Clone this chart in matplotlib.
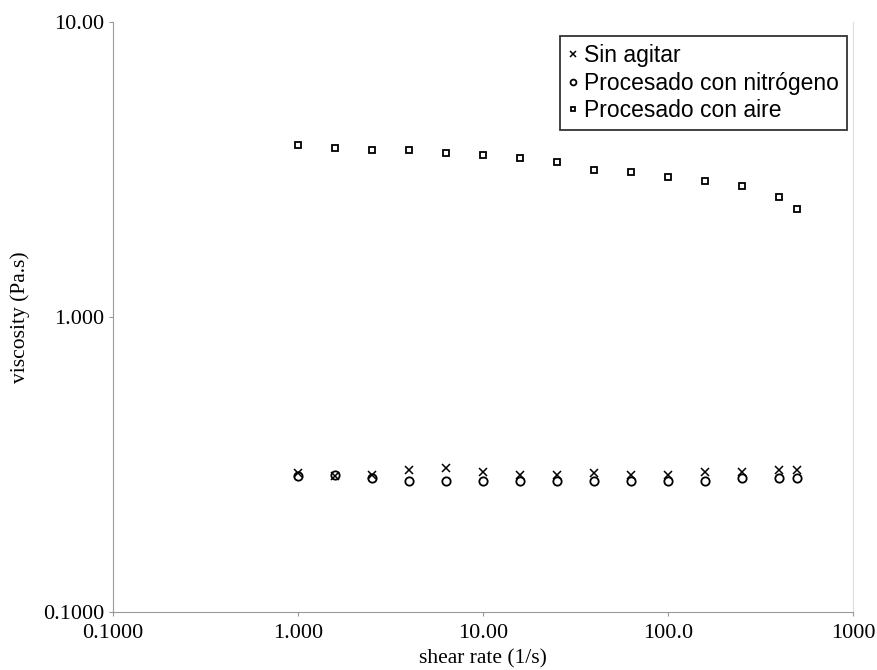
import matplotlib
matplotlib.use("Agg")
import matplotlib.pyplot as plt
from matplotlib.ticker import FixedLocator, FixedFormatter, NullLocator

# shear rate (1/s)
shear = [1.0, 1.585, 2.512, 3.981, 6.31, 10.0, 15.85, 25.12, 39.81, 63.1,
         100.0, 158.5, 251.2, 398.1, 500.0]
# viscosity (Pa.s) for each sample
sin_agitar = [0.295, 0.288, 0.292, 0.302, 0.307, 0.299, 0.292, 0.292, 0.295,
              0.292, 0.292, 0.299, 0.299, 0.302, 0.302]
nitrogeno = [0.290, 0.292, 0.284, 0.279, 0.277, 0.279, 0.279, 0.279, 0.279,
             0.279, 0.279, 0.279, 0.284, 0.284, 0.284]
aire = [3.84, 3.75, 3.69, 3.67, 3.61, 3.55, 3.47, 3.34, 3.16, 3.11,
        2.99, 2.90, 2.79, 2.56, 2.32]

x_ticks = [0.1, 1, 10, 100, 1000]
x_labels = ["0.1000", "1.000", "10.00", "100.0", "1000"]
y_ticks = [0.1, 1, 10]
y_labels = ["0.1000", "1.000", "10.00"]

fig = plt.figure(figsize=(8.77, 6.70), dpi=100)
ax = fig.add_axes([0.1288, 0.0866, 0.8438, 0.8806])

ax.plot(shear, sin_agitar, linestyle="none", marker="x", markersize=5.5,
        markeredgewidth=1.1, color="black", label="Sin agitar")
ax.plot(shear, nitrogeno, linestyle="none", marker="o", markersize=6,
        markerfacecolor="none", markeredgewidth=1.3, color="black",
        label="Procesado con nitrógeno")
ax.plot(shear, aire, linestyle="none", marker="s", markersize=5,
        markerfacecolor="none", markeredgewidth=1.3, color="black",
        label="Procesado con aire")

ax.set_xscale("log")
ax.set_yscale("log")
ax.set_xlim(0.1, 1000)
ax.set_ylim(0.1, 10)

ax.xaxis.set_major_locator(FixedLocator(x_ticks))
ax.xaxis.set_major_formatter(FixedFormatter(x_labels))
ax.yaxis.set_major_locator(FixedLocator(y_ticks))
ax.yaxis.set_major_formatter(FixedFormatter(y_labels))
ax.xaxis.set_minor_locator(NullLocator())
ax.yaxis.set_minor_locator(NullLocator())

serif = "Liberation Serif"
for lab in ax.get_xticklabels() + ax.get_yticklabels():
    lab.set_fontfamily(serif)
    lab.set_fontsize(16)
ax.tick_params(axis="both", length=3, width=0.8, color="#999999")
ax.tick_params(axis="x", pad=6)
ax.tick_params(axis="y", pad=3)

ax.spines["top"].set_visible(False)
ax.spines["left"].set_color("#9a9a9a")
ax.spines["bottom"].set_color("#9a9a9a")
ax.spines["right"].set_color("#dddddd")

ax.set_xlabel("shear rate (1/s)", fontfamily=serif, fontsize=15.5)
ax.set_ylabel("viscosity (Pa.s)", fontfamily=serif, fontsize=15.5)
ax.xaxis.set_label_coords(0.5, -0.063)
ax.yaxis.set_label_coords(-0.112, 0.5)

leg = ax.legend(loc="upper right", bbox_to_anchor=(0.992, 0.976),
                prop={"family": "Liberation Sans", "size": 16.5},
                frameon=True, fancybox=False, handlelength=0.4,
                handletextpad=0.3, borderpad=0.35, labelspacing=0.2,
                borderaxespad=0, markerscale=0.7)
leg.get_frame().set_edgecolor("black")
leg.get_frame().set_linewidth(1.3)

fig.savefig("out.png", dpi=100)
